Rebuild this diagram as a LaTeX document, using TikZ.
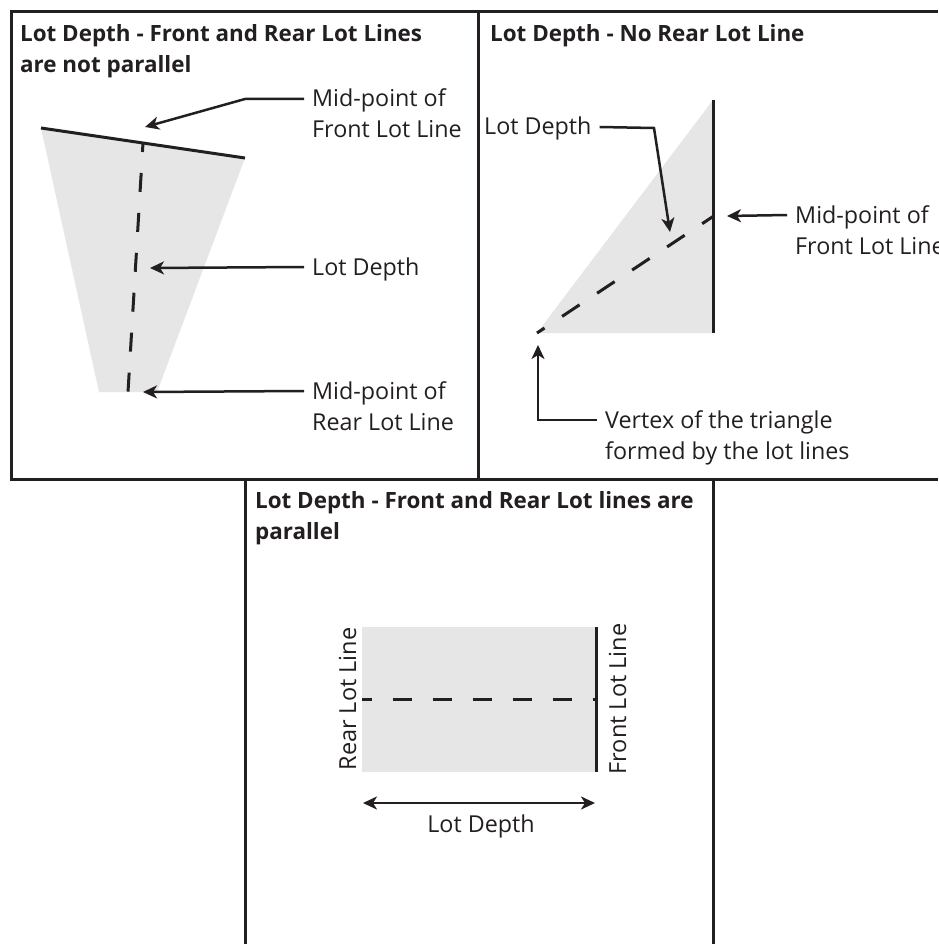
\documentclass[tikz,border=0pt]{standalone}
\usepackage{fontspec}
\setmainfont{Open Sans}
\usetikzlibrary{arrows.meta}
\definecolor{ink}{HTML}{231F20}
\definecolor{lotgray}{HTML}{E6E6E7}
\begin{document}
\begin{tikzpicture}[x=1pt,y=-1pt,
  frame/.style={line width=3pt, draw=ink},
  lotline/.style={line width=3pt, draw=ink},
  depthline/.style={line width=3pt, draw=ink, dash pattern=on 19pt off 21pt, dash phase=10pt},
  pointer/.style={line width=2.5pt, draw=ink, -{Stealth[length=14pt,width=13pt,inset=4pt]}},
  dblpointer/.style={line width=2.5pt, draw=ink, {Stealth[length=14pt,width=13pt,inset=4pt]}-{Stealth[length=14pt,width=13pt,inset=4pt]}},
  lbl/.style={font=\fontsize{23.3}{28}\selectfont, text=ink, inner sep=0pt, inner xsep=8pt, text height=16pt, text depth=0pt, anchor=base west},
  ttl/.style={font=\bfseries\fontsize{22.4}{27}\selectfont, text=ink, inner sep=0pt, anchor=base west},
  vlbl/.style={font=\fontsize{23.5}{28}\selectfont, text=ink, inner sep=0pt, rotate=90, anchor=base},
]
\useasboundingbox (0,0) rectangle (938,944);
\fill[white] (0,0) rectangle (938,944);

% ---------- panel frames ----------
\draw[frame] (938,12) -- (11,12) -- (11,479) -- (938,479);
\draw[frame] (478,12) -- (478,479);
\draw[frame] (245,479) -- (245,944);
\draw[frame] (713,479) -- (713,944);

% ---------- top-left panel ----------
\node[ttl] (t1a) at (20,42) {Lot Depth - Front and Rear Lot Lines};
\node[ttl] (t1b) at (20,73) {are not parallel};

\coordinate (fl1) at (41,128);
\coordinate (fr1) at (245,158);
\coordinate (rr1) at (157,392);
\coordinate (rl1) at (99,392);
\fill[lotgray] (fl1) -- (fr1) -- (rr1) -- (rl1) -- cycle;
\draw[lotline] (fl1) -- (fr1);
\coordinate (fmid1) at (143,143);
\coordinate (rmid1) at (128,392);
\draw[depthline] (fmid1) -- (rmid1);

\node[lbl] (m1a) at (304,107) {Mid-point of};
\node[lbl] (m1b) at (304,138) {Front Lot Line};
\node[lbl] (d1) at (304,275) {Lot Depth};
\node[lbl] (r1a) at (304,399) {Mid-point of};
\node[lbl] (r1b) at (304,430) {Rear Lot Line};

\coordinate (bend1) at (245,99);
\coordinate (tipf1) at (145,127);
\coordinate (tipd1) at (150,268);
\coordinate (tipr1) at (143,392);
\draw[pointer] (m1a.west) -- (bend1) -- (tipf1);
\draw[pointer] (d1.west) -- (tipd1);
\draw[pointer] (r1a.west) -- (tipr1);

% ---------- top-right panel ----------
\node[ttl] (t2) at (490,42) {Lot Depth - No Rear Lot Line};

\coordinate (tt2) at (713,100);
\coordinate (tb2) at (713,333);
\coordinate (tv2) at (537,333);
\fill[lotgray] (tt2) -- (tb2) -- (tv2) -- cycle;
\draw[lotline] (tt2) -- (tb2);
\coordinate (fmid2) at (713,216.5);
\draw[depthline, dash pattern=on 21pt off 21pt, dash phase=8pt] (fmid2) -- (tv2);

\node[lbl] (d2) at (476,135) {Lot Depth};
\node[lbl] (m2a) at (787,223) {Mid-point of};
\node[lbl] (m2b) at (787,254) {Front Lot Line};
\node[lbl] (v2a) at (597,428) {Vertex of the triangle};
\node[lbl] (v2b) at (597,459) {formed by the lot lines};

\coordinate (bend2) at (654,128);
\coordinate (tipd2) at (670,232);
\coordinate (tipm2) at (727,216);
\coordinate (tipv2) at (538,345);
\draw[pointer] (d2.east) -- (bend2) -- (tipd2);
\draw[pointer] (m2a.west) -- (tipm2);
\draw[pointer] (v2a.west) -| (tipv2);

% ---------- bottom panel ----------
\node[ttl] (t3a) at (255,508) {Lot Depth - Front and Rear Lot lines are};
\node[ttl] (t3b) at (255,539) {parallel};

\coordinate (rtl) at (362,627);
\coordinate (rbr) at (596,772);
\fill[lotgray] (rtl) rectangle (rbr);
\coordinate (ft3) at (596,627);
\draw[lotline] (ft3) -- (rbr);
\coordinate (rmid3) at (362,699);
\coordinate (fmid3) at (596,699);
\draw[depthline, dash phase=9.5pt] (rmid3) -- (fmid3);

\node[vlbl] (rl3) at (356,699) {Rear Lot Line};
\node[vlbl] (fl3) at (626,699) {Front Lot Line};

\coordinate (al3) at (363,803);
\coordinate (ar3) at (595,803);
\draw[dblpointer] (al3) -- (ar3);
\node[lbl, anchor=base, inner xsep=0pt] (d3) at (481,832) {Lot Depth};
\end{tikzpicture}
\end{document}
